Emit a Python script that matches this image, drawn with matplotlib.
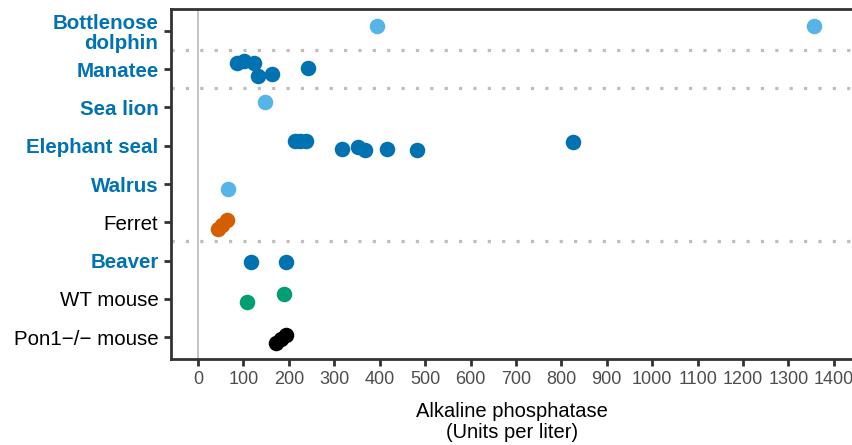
import matplotlib.pyplot as plt

plt.rcParams['font.family'] = ['Liberation Sans', 'DejaVu Sans']

# categories, bottom to top
species = ["Pon1\u2212/\u2212 mouse", "WT mouse", "Beaver", "Ferret", "Walrus",
           "Elephant seal", "Sea lion", "Manatee", "Bottlenose\ndolphin"]
marine = [False, False, True, False, True, True, True, True, True]

# values (units per liter) and their vertical jitter
pon1 = [172, 183, 194]
pon1_jit = [-0.16, -0.05, 0.05]
wt = [107, 189]
wt_jit = [-0.08, 0.13]
beaver = [117, 194]
beaver_jit = [-0.03, -0.03]
ferret = [44, 53, 64]
ferret_jit = [-0.18, -0.06, 0.05]
walrus = [66]
walrus_jit = [-0.13]
eseal = [214, 225, 238, 317, 352, 368, 416, 482, 825]
eseal_jit = [0.12, 0.12, 0.12, -0.08, -0.03, -0.1, -0.08, -0.1, 0.1]
sealion = [148]
sealion_jit = [0.13]
manatee = [86, 101, 123, 132, 163, 242]
manatee_jit = [0.16, 0.21, 0.16, -0.18, -0.13, 0.03]
dolphin = [394, 1356]
dolphin_jit = [0.12, 0.12]

series = [
    (pon1, pon1_jit, "black"),
    (wt, wt_jit, "#009E73"),
    (beaver, beaver_jit, "#0072B2"),
    (ferret, ferret_jit, "#D55E00"),
    (walrus, walrus_jit, "#56B4E9"),
    (eseal, eseal_jit, "#0072B2"),
    (sealion, sealion_jit, "#56B4E9"),
    (manatee, manatee_jit, "#0072B2"),
    (dolphin, dolphin_jit, "#56B4E9"),
]

fig = plt.figure(figsize=(8.53, 4.45), dpi=100)
ax = fig.add_axes([171 / 853, 1 - 359 / 445, 1 - 171 / 853, 350 / 445])

ax.axvline(0, color="#BEBEBE", lw=1.3, zorder=0)
for yl in [2.5, 6.5, 7.5]:
    ax.axhline(yl, color="#BEBEBE", lw=2.3, ls=(0, (1, 3.5)), zorder=0)

for i, (vals, jit, col) in enumerate(series):
    ax.scatter(vals, [i + j for j in jit], s=125, color=col, lw=0, zorder=3)

ax.set_xlim(-59.4, 1442)
ax.set_ylim(-0.57, 8.57)
ax.set_xticks(range(0, 1401, 100))
ax.set_yticks(range(len(species)))
ax.set_yticklabels(species, linespacing=1.05)
for lab, m in zip(ax.get_yticklabels(), marine):
    if m:
        lab.set_color("#0072B2")
        lab.set_fontweight("bold")
    else:
        lab.set_color("black")
ax.tick_params(axis="y", labelsize=14.8, length=5, width=2, color="#333333", pad=4)
ax.tick_params(axis="x", labelsize=13, length=5, width=2, color="#333333",
               labelcolor="#4D4D4D", pad=4)
for s in ["left", "bottom", "top"]:
    ax.spines[s].set_color("#333333")
    ax.spines[s].set_linewidth(2)
ax.spines["right"].set_visible(False)
ax.set_xlabel("Alkaline phosphatase\n(Units per liter)", fontsize=14.5, labelpad=10,
              linespacing=1.08)

fig.savefig("out.png", dpi=100)
